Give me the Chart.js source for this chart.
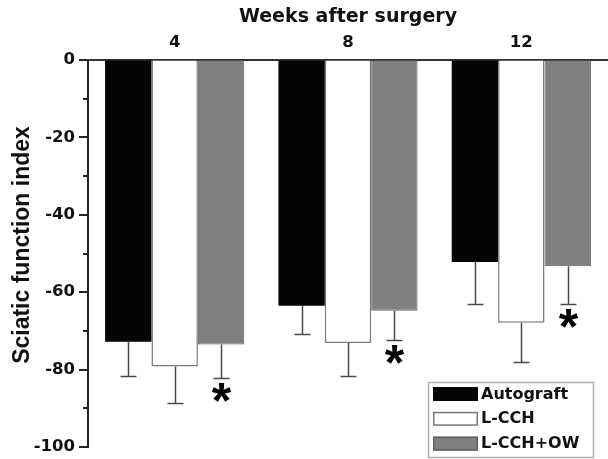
<!DOCTYPE html>
<html>
<head>
<meta charset="utf-8">
<script src="https://cdn.jsdelivr.net/npm/chart.js@4/dist/chart.umd.min.js"></script>
<style>
  html, body { margin: 0; padding: 0; background: #fff; }
  #wrap { width: 608px; height: 459px; }
</style>
</head>
<body>
<div id="wrap"><canvas id="c" width="608" height="459"></canvas></div>
<script>
// Sciatic function index by group, weeks after surgery
const weeks = ['4', '8', '12'];
const seriesNames = ['Autograft', 'L-CCH', 'L-CCH+OW'];

const autograft = [-72.8, -63.5, -52.2];
const lcch      = [-79.2, -73.1, -67.9];
const lcchOw    = [-73.5, -64.8, -53.3];

// one-sided (downward) error, in index units
const autograftErr = [8.9, 7.3, 10.8];
const lcchErr      = [9.5, 8.6, 10.1];
const lcchOwErr    = [8.6, 7.5, 9.7];

// significance marks drawn under the error bars
const autograftStar = [false, false, false];
const lcchStar      = [false, false, false];
const lcchOwStar    = [true, true, true];

const yMin = -100, yMax = 0, yStep = 20, yMinorStep = 10;

const tickFont = { family: 'DejaVu Sans', weight: 'bold', size: 16.5 };
const ink = '#111';

// error bars + asterisks
const errorBars = {
  id: 'errorBars',
  afterDatasetsDraw(chart) {
    const ctx = chart.ctx, ys = chart.scales.y;
    chart.data.datasets.forEach((ds, i) => {
      const meta = chart.getDatasetMeta(i);
      meta.data.forEach((bar, j) => {
        const yEnd = Math.round(ys.getPixelForValue(ds.data[j] - ds.errors[j])) + 0.5;
        const x = Math.round(bar.x) + 0.5;
        ctx.save();
        ctx.strokeStyle = '#4a4a4a';
        ctx.lineWidth = 1.5;
        ctx.beginPath();
        ctx.moveTo(x, bar.y);
        ctx.lineTo(x, yEnd);
        ctx.moveTo(x - 8, yEnd);
        ctx.lineTo(x + 8, yEnd);
        ctx.stroke();
        if (ds.stars[j]) {
          ctx.fillStyle = '#000';
          ctx.font = 'bold 50px "Liberation Sans"';
          ctx.textAlign = 'center';
          ctx.textBaseline = 'alphabetic';
          const m = ctx.measureText('*');
          const cy = yEnd + 14;
          ctx.fillText('*', x, cy + (m.actualBoundingBoxAscent - m.actualBoundingBoxDescent) / 2);
        }
        ctx.restore();
      });
    });
  }
};

// y-axis tick marks (major + minor), y title and legend box
const decorations = {
  id: 'decorations',
  afterDraw(chart) {
    const ctx = chart.ctx, ys = chart.scales.y;
    const ax = ys.right;
    ctx.save();
    ctx.strokeStyle = '#222';
    ctx.lineWidth = 2;
    ctx.beginPath();
    for (let v = yMax; v >= yMin; v -= yMinorStep) {
      const py = Math.round(ys.getPixelForValue(v));
      const len = (v % yStep === 0) ? 9 : 5;
      ctx.moveTo(ax, py);
      ctx.lineTo(ax - len, py);
    }
    ctx.stroke();

    // y title
    ctx.save();
    ctx.translate(23, 245);
    ctx.rotate(-Math.PI / 2);
    ctx.fillStyle = ink;
    ctx.font = 'bold 23px "Liberation Sans"';
    ctx.textAlign = 'center';
    ctx.textBaseline = 'middle';
    ctx.fillText('Sciatic function index', 0, 0);
    ctx.restore();

    // legend
    const bx = 428.5, by = 382.5, bw = 165, bh = 75;
    ctx.fillStyle = '#fff';
    ctx.fillRect(bx, by, bw, bh);
    ctx.strokeStyle = '#b0b0b0';
    ctx.lineWidth = 1.5;
    ctx.strokeRect(bx, by, bw, bh);
    ctx.font = 'bold 16px "DejaVu Sans"';
    ctx.textAlign = 'left';
    ctx.textBaseline = 'middle';
    chart.data.datasets.forEach((ds, i) => {
      const sy = 387 + i * 24.8;
      ctx.fillStyle = ds.backgroundColor;
      ctx.fillRect(433, sy, 45, 14);
      ctx.strokeStyle = ds.borderColor;
      ctx.lineWidth = 1.5;
      ctx.strokeRect(433.75, sy + 0.75, 43.5, 12.5);
      ctx.fillStyle = ink;
      ctx.fillText(ds.label, 481, sy + 7.5);
    });
    ctx.restore();
  }
};

const makeSet = (i, data, errors, stars, bg, border, bw) => ({
  label: seriesNames[i],
  data, errors, stars,
  backgroundColor: bg,
  borderColor: border,
  borderWidth: bw,
  borderSkipped: 'start',
  categoryPercentage: 0.803,
  barPercentage: 1.0
});

new Chart(document.getElementById('c'), {
  type: 'bar',
  data: {
    labels: weeks,
    datasets: [
      makeSet(0, autograft, autograftErr, autograftStar, '#050505', '#050505', 0),
      makeSet(1, lcch, lcchErr, lcchStar, '#ffffff', '#7a7a7a', 1.5),
      makeSet(2, lcchOw, lcchOwErr, lcchOwStar, '#808080', '#5e5e5e', 1)
    ]
  },
  options: {
    responsive: false,
    animation: false,
    devicePixelRatio: 1,
    layout: { padding: { left: 0, right: -3, top: 0, bottom: 12 } },
    plugins: {
      legend: { display: false },
      tooltip: { enabled: false }
    },
    scales: {
      x: {
        position: 'top',
        offset: true,
        grid: { display: true, drawOnChartArea: false, drawTicks: false },
        border: { display: true, color: '#333', width: 2 },
        ticks: { color: ink, font: tickFont, padding: 7, maxRotation: 0 },
        title: {
          display: true,
          text: 'Weeks after surgery',
          color: ink,
          font: { family: 'DejaVu Sans', weight: 'bold', size: 19 },
          padding: { top: 6, bottom: 0 }
        },
        afterFit: s => { s.height = 60; s.paddingLeft = 0; s.paddingRight = 0; }
      },
      y: {
        min: yMin,
        max: yMax,
        grid: { display: true, drawOnChartArea: false, drawTicks: false },
        border: { display: true, color: '#222', width: 2 },
        ticks: { stepSize: yStep, color: ink, font: tickFont, padding: 13 },
        afterFit: s => { s.width = 88; s.paddingTop = 0; s.paddingBottom = 0; }
      }
    }
  },
  plugins: [errorBars, decorations]
});
</script>
</body>
</html>
